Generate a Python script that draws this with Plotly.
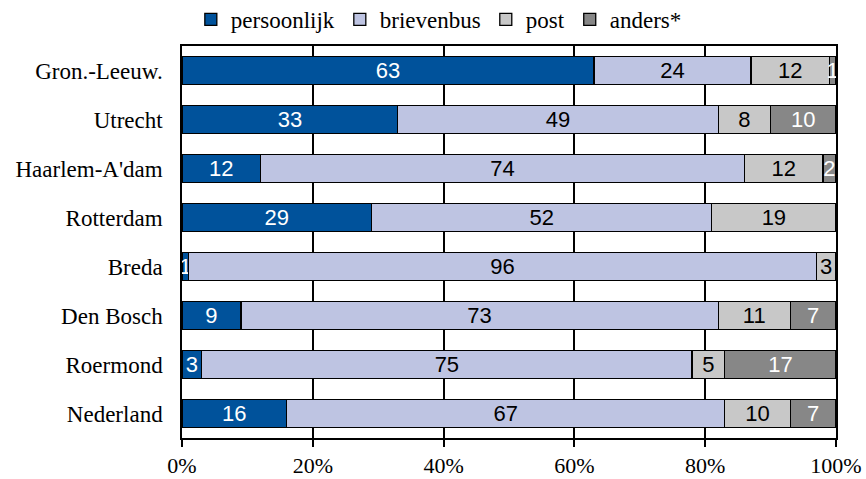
import plotly.graph_objects as go

categories = ["Gron.-Leeuw.", "Utrecht", "Haarlem-A'dam", "Rotterdam", "Breda", "Den Bosch", "Roermond", "Nederland"]
persoonlijk = [63, 33, 12, 29, 1, 9, 3, 16]
brievenbus = [24, 49, 74, 52, 96, 73, 75, 67]
post = [12, 8, 12, 19, 3, 11, 5, 10]
anders = [1, 10, 2, 0, 0, 7, 17, 7]
tick_vals = [0, 20, 40, 60, 80, 100]
tick_text = ["0%", "20%", "40%", "60%", "80%", "100%"]

series = [
    ("persoonlijk", persoonlijk, "#00529B", "white"),
    ("brievenbus", brievenbus, "#BEC4E2", "black"),
    ("post", post, "#C8C8C8", "black"),
    ("anders*", anders, "#878787", "white"),
]

fig = go.Figure()
for name, vals, col, tcol in series:
    fig.add_trace(go.Bar(
        y=categories, x=vals, name=name, orientation="h",
        marker=dict(color=col, line=dict(color="black", width=1.3)),
        text=[str(v) if v else "" for v in vals],
        textposition="inside", insidetextanchor="middle", textangle=0,
        textfont=dict(family="Liberation Sans, Arial", size=22, color=tcol),
        constraintext="none", cliponaxis=False,
    ))

fig.update_layout(
    barmode="stack", bargap=0.43,
    width=866, height=479,
    margin=dict(l=182, r=30, t=46, b=41, autoexpand=False),
    plot_bgcolor="white", paper_bgcolor="white",
    font=dict(family="Liberation Serif, Times New Roman", size=23, color="black"),
    uniformtext=dict(minsize=22, mode="show"),
    legend=dict(orientation="h", x=0.0135, xanchor="left", y=1.068, yanchor="middle",
                font=dict(size=23), traceorder="normal", itemwidth=30,
                bgcolor="rgba(0,0,0,0)"),
    showlegend=True,
)
fig.update_xaxes(range=[0, 100], tickvals=tick_vals, ticktext=tick_text,
                 showgrid=True, gridcolor="black", gridwidth=1.5,
                 showline=True, linecolor="black", linewidth=1.5, mirror=True,
                 ticks="outside", ticklen=7, tickcolor="black", tickwidth=1.5,
                 zeroline=False, tickfont=dict(size=22))
fig.update_yaxes(autorange="reversed", categoryorder="array", categoryarray=categories,
                 showline=True, linecolor="black", linewidth=1.5, mirror=True,
                 showgrid=False, ticks="", ticklabelstandoff=13, tickfont=dict(size=23))

fig.write_html("out.html", config={"displayModeBar": False},
               post_script="document.body.style.margin='0';document.body.style.overflow='hidden';")
